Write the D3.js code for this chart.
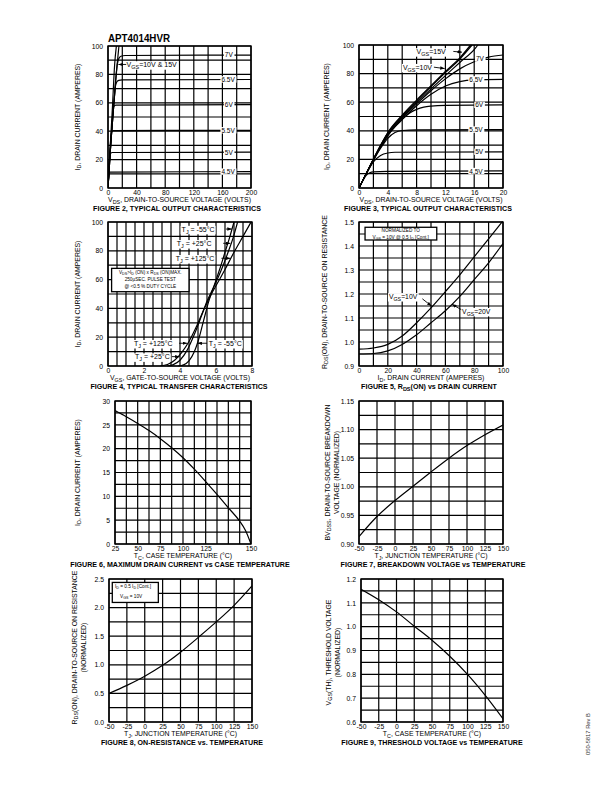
<!DOCTYPE html>
<html>
<head>
<meta charset="utf-8">
<script src="https://cdn.jsdelivr.net/npm/d3@7"></script>
<style>
body { margin: 0; background: #fff; }
svg { display: block; font-family: "Liberation Sans", Arial, sans-serif; }
</style>
</head>
<body>
<script>
// values

// fig 2 - output characteristics, 0..200 V
const fig2XTicks = [0, 40, 80, 120, 160, 200];
const fig2YTicks = [0, 20, 40, 60, 80, 100];
const fig2Vgs15 = [[0,0],[2,20],[4,37],[6,55],[9.3,87],[11.7,100]];
const fig2Vgs10 = [[0,0],[2,18],[4,32],[8,58],[12.6,86],[15.3,100]];
const fig2Vgs7 = [[0,0],[4,32],[8,58],[11,78],[13,87],[15,91],[18,92.8],[24,93.3],[200,93.6]];
const fig2Vgs65 = [[0,0],[4,32],[8,58],[10,70],[12,74.5],[15,75.8],[20,76.2],[200,76.4]];
const fig2Vgs6 = [[0,0],[4,32],[6,48],[7,54.5],[8,57.5],[11,58.4],[200,58.7]];
const fig2Vgs55 = [[0,0],[3,28],[4,35.5],[5,39.5],[7,40.4],[200,40.6]];
const fig2Vgs5 = [[0,0],[2,19],[3,23.5],[4,24.6],[6,25],[200,25.2]];
const fig2Vgs45 = [[0,0],[1,9],[1.8,10.8],[3,11.2],[200,11.5]];

// fig 3 - output characteristics, 0..20 V
const fig3XTicks = [0, 4, 8, 12, 16, 20];
const fig3YTicks = [0, 20, 40, 60, 80, 100];
const fig3Vgs15 = [[0,0],[1,10.2],[2,20.3],[3,30],[4,38.8],[6,51],[8,61.5],[10,71.5],[12,81.5],[14,91],[15.5,100]];
const fig3Vgs10 = [[0,0],[1,10.1],[2,20.1],[3,29.7],[4,38.4],[6,50.4],[8,60.8],[10,70.8],[12,80.7],[14,90.2],[15.7,100]];
const fig3Vgs8 = [[0,0],[1,10],[2,20],[3,29.4],[4,38],[6,49.7],[8,59.8],[10,69.3],[12,78.6],[14,87.8],[16.2,98],[16.5,100]];
const fig3Vgs7 = [[0,0],[1,10],[2,19.8],[3,29],[4,37.5],[6,49],[8,58.8],[10,68],[12,76.3],[14,83.3],[16,88.3],[18,91.5],[20,93]];
const fig3Vgs65 = [[0,0],[1,10],[2,19.7],[3,28.8],[4,37],[6,47.8],[8,57.5],[10,65.5],[12,71.3],[14,74.4],[16,75.6],[20,76]];
const fig3Vgs6 = [[0,0],[1,10],[2,19.5],[3,28.5],[4,36.5],[5,43],[6,48.2],[7,52.3],[8,55],[9,56.6],[10,57.3],[12,57.8],[20,58.1]];
const fig3Vgs55 = [[0,0],[1,10],[2,19.3],[3,27.8],[4,34.8],[5,38.8],[6,40.2],[8,40.6],[20,40.8]];
const fig3Vgs5 = [[0,0],[1,9.8],[2,18.3],[3,22.8],[4,24.5],[5,25],[20,25.3]];
const fig3Vgs45 = [[0,0],[1,8.8],[1.5,10.7],[2,11.3],[4,11.6],[20,12]];

// fig 4 - transfer characteristics
const fig4XTicks = [0, 2, 4, 6, 8];
const fig4YTicks = [0, 20, 40, 60, 80, 100];
const fig4TjM55 = [[3.9,0],[4.2,0.8],[4.5,3.5],[4.8,10],[5.0,17],[5.3,31],[5.6,45],[5.9,56],[6.2,67],[6.5,79],[6.75,89],[7.0,100]];
const fig4Tj25 = [[3.3,0],[3.6,0.8],[4.0,4],[4.4,11],[4.8,22],[5.2,35],[5.5,45],[5.8,53],[6.1,61],[6.4,70],[6.7,80],[6.95,89],[7.2,100]];
const fig4Tj125 = [[2.9,0],[3.3,1],[3.7,4],[4.1,9.5],[4.5,17],[4.9,27],[5.3,38.5],[5.7,49],[6.1,58],[6.5,67],[7.0,79],[7.5,90],[7.95,100]];

// fig 5 - Rds(on) vs drain current
const fig5XTicks = [0, 20, 40, 60, 80, 100];
const fig5YTicks = [0.9, 1.0, 1.1, 1.2, 1.3, 1.4, 1.5];
const fig5Vgs10 = [[0,0.97],[10,0.975],[20,0.99],[30,1.025],[40,1.08],[50,1.142],[60,1.21],[70,1.28],[80,1.355],[90,1.43],[100,1.505]];
const fig5Vgs20 = [[0,0.95],[10,0.952],[20,0.963],[30,0.99],[40,1.03],[50,1.08],[60,1.13],[70,1.19],[80,1.26],[90,1.33],[100,1.41]];

// fig 6 - max drain current vs case temperature (grid is 12 cells, labels at cells 0,2,4,6,8,12)
const fig6XTicks = [25, 50, 75, 100, 125, 150];
const fig6YTicks = [0, 5, 10, 15, 20, 25, 30];
const fig6Id = [[25,28],[37.5,26.7],[50,25.3],[62.5,23.8],[75,22.1],[87.5,20.2],[100,18.1],[112.5,15.7],[125,13.1],[131.25,10.4],[137.5,7.6],[143.75,4.8],[146.9,2.9],[150,0]];

// fig 7 - breakdown voltage vs temperature
const tempTicks = [-50, -25, 0, 25, 50, 75, 100, 125, 150];
const fig7YTicks = [0.90, 0.95, 1.00, 1.05, 1.10, 1.15];
const fig7Bv = [[-50,0.913],[-25,0.948],[0,0.976],[25,1.001],[50,1.026],[75,1.05],[100,1.072],[125,1.091],[150,1.108]];

// fig 8 - on-resistance vs temperature
const fig8YTicks = [0.0, 0.5, 1.0, 1.5, 2.0, 2.5];
const fig8Rds = [[-50,0.5],[-25,0.64],[0,0.8],[25,0.99],[50,1.22],[75,1.48],[100,1.75],[125,2.04],[150,2.38]];

// fig 9 - threshold voltage vs temperature
const fig9YTicks = [0.6, 0.7, 0.8, 0.9, 1.0, 1.1, 1.2];
const fig9Vth = [[-50,1.157],[-25,1.113],[0,1.062],[25,1.002],[50,0.943],[75,0.876],[100,0.8],[125,0.712],[150,0.614]];

const svg = d3.select("body").append("svg").attr("width", 612).attr("height", 792);

svg.append("defs").append("marker")
  .attr("id", "ah").attr("viewBox", "0 0 8 6").attr("refX", 8).attr("refY", 3)
  .attr("markerWidth", 4.5).attr("markerHeight", 3.4).attr("markerUnits", "userSpaceOnUse")
  .attr("orient", "auto")
  .append("path").attr("d", "M0,0L8,3L0,6Z").attr("fill", "#000");

// text with _{sub} parts
function rich(g, str, fs) {
  const t = g.append("text").attr("font-size", fs).attr("fill", "#000");
  let down = false;
  str.split(/(_\{[^}]*\})/).filter(s => s.length).forEach(p => {
    if (p.startsWith("_{")) {
      t.append("tspan").attr("font-size", fs * 0.78).attr("dy", fs * 0.3).text(p.slice(2, -1));
      down = true;
    } else {
      const s = t.append("tspan").text(p);
      if (down) { s.attr("dy", -fs * 0.3); down = false; }
    }
  });
  return t;
}

function label(g, str, fs, px, py, anchor, bg) {
  const t = rich(g, str, fs).attr("x", px).attr("y", py + fs * 0.35).attr("text-anchor", anchor || "middle");
  if (bg) {
    const b = t.node().getBBox();
    g.insert("rect", () => t.node())
      .attr("x", b.x - 1).attr("y", b.y + 0.3).attr("width", b.width + 2).attr("height", b.height - 0.6)
      .attr("fill", "#fff");
  }
  return t;
}

function drawChart(c) {
  const [l, r, t, b] = c.frame;
  const x = d3.scaleLinear().domain(c.xDom).range(c.xRange ? c.xRange.map(f => l + f * (r - l)) : [l, r]);
  const y = d3.scaleLinear().domain(c.yDom).range([b, t]);
  const g = svg.append("g");

  g.selectAll(null).data(c.gridX).join("line")
    .attr("x1", d => x(d)).attr("x2", d => x(d)).attr("y1", t).attr("y2", b)
    .attr("stroke", "#000").attr("stroke-width", 1.2);
  g.selectAll(null).data(c.gridY).join("line")
    .attr("x1", l).attr("x2", r).attr("y1", d => y(d)).attr("y2", d => y(d))
    .attr("stroke", "#000").attr("stroke-width", 1.2);
  g.append("rect").attr("x", l).attr("y", t).attr("width", r - l).attr("height", b - t)
    .attr("fill", "none").attr("stroke", "#000").attr("stroke-width", 1.4);

  const ax = g.append("g").attr("transform", `translate(0,${b})`)
    .call(d3.axisBottom(x).tickValues(c.xTicks).tickFormat(c.xFmt).tickSize(0).tickPadding(1.8));
  const ay = g.append("g").attr("transform", `translate(${l},0)`)
    .call(d3.axisLeft(y).tickValues(c.yTicks).tickFormat(c.yFmt).tickSize(0).tickPadding(5));
  [ax, ay].forEach(a => {
    a.select(".domain").remove();
    a.attr("font-family", null).attr("font-size", null);
    a.selectAll("text").attr("font-size", 6.8).attr("fill", "#000");
  });

  const clip = "clip" + c.id;
  g.append("clipPath").attr("id", clip).append("rect")
    .attr("x", l).attr("y", t - 0.5).attr("width", r - l).attr("height", b - t + 1);
  const line = d3.line().x(d => x(d[0])).y(d => y(d[1])).curve(d3.curveMonotoneX);
  g.append("g").attr("clip-path", `url(#${clip})`)
    .selectAll("path").data(c.series).join("path")
    .attr("d", line).attr("fill", "none").attr("stroke", "#000").attr("stroke-width", 1.2);

  (c.boxes || []).forEach(bx => {
    g.append("rect").attr("x", x(bx.x1)).attr("y", y(bx.y1))
      .attr("width", x(bx.x2) - x(bx.x1)).attr("height", y(bx.y2) - y(bx.y1))
      .attr("fill", "#fff").attr("stroke", "#000").attr("stroke-width", 1.3);
    bx.lines.forEach(ln => label(g, ln.t, 4.7, x(ln.x), y(ln.y), ln.anchor || "middle", false));
  });
  (c.labels || []).forEach(lb => label(g, lb.t, lb.fs || 6.5, x(lb.x), y(lb.y), lb.anchor, true));
  (c.arrows || []).forEach(a => {
    g.append("line").attr("x1", x(a[0])).attr("y1", y(a[1])).attr("x2", x(a[2])).attr("y2", y(a[3]))
      .attr("stroke", "#000").attr("stroke-width", 0.9).attr("marker-end", "url(#ah)");
  });

  const mid = (l + r) / 2;
  rich(g, c.xTitle, 6.9).attr("x", mid).attr("y", b + 13.8).attr("text-anchor", "middle");
  rich(g, c.caption, 7.1).attr("x", c.capX).attr("y", b + 22.6).attr("text-anchor", "middle")
    .attr("font-weight", "bold");
  c.yTitles.forEach(([px, str]) => {
    rich(g, str, 6.9).attr("text-anchor", "middle").attr("dominant-baseline", "central")
      .attr("transform", `translate(${px},${(t + b) / 2 + (c.yShift || 0)}) rotate(-90)`);
  });
}

const fmt0 = d => String(d), fmt1 = d3.format(".1f"), fmt2 = d3.format(".2f");
const tempGrid = d3.range(-50, 151, 25);

const charts = [
  { id: 2, frame: [108, 251, 46, 188], xDom: [0, 200], yDom: [0, 100],
    gridX: d3.range(0, 201, 20), gridY: d3.range(0, 101, 10),
    xTicks: fig2XTicks, yTicks: fig2YTicks, xFmt: fmt0, yFmt: fmt0,
    xTitle: "V_{DS}, DRAIN-TO-SOURCE VOLTAGE (VOLTS)", yTitles: [[77, "I_{D}, DRAIN CURRENT (AMPERES)"]],
    caption: "FIGURE 2, TYPICAL OUTPUT CHARACTERISTICS", capX: 177,
    series: [fig2Vgs15, fig2Vgs10, fig2Vgs7, fig2Vgs65, fig2Vgs6, fig2Vgs55, fig2Vgs5, fig2Vgs45],
    labels: [
      { t: "7V", x: 169, y: 94.2 }, { t: "6.5V", x: 168, y: 76.3 }, { t: "6V", x: 169, y: 58.6 },
      { t: "5.5V", x: 168, y: 40.5 }, { t: "5V", x: 169, y: 25.1 }, { t: "4.5V", x: 168, y: 11.4 },
      { t: "V_{GS}=10V & 15V", x: 26, y: 87, anchor: "start", fs: 7 }
    ],
    arrows: [[25.5, 87, 14.5, 87]] },
  { id: 3, frame: [359, 503, 45, 188], xDom: [0, 20], yDom: [0, 100],
    gridX: d3.range(0, 21, 2), gridY: d3.range(0, 101, 10),
    xTicks: fig3XTicks, yTicks: fig3YTicks, xFmt: fmt0, yFmt: fmt0,
    xTitle: "V_{DS}, DRAIN-TO-SOURCE VOLTAGE (VOLTS)", yTitles: [[326, "I_{D}, DRAIN CURRENT (AMPERES)"]],
    caption: "FIGURE 3, TYPICAL OUTPUT CHARACTERISTICS", capX: 428,
    series: [fig3Vgs15, fig3Vgs10, fig3Vgs8, fig3Vgs7, fig3Vgs65, fig3Vgs6, fig3Vgs55, fig3Vgs5, fig3Vgs45],
    labels: [
      { t: "7V", x: 16.8, y: 90.4 }, { t: "6.5V", x: 16.25, y: 75.8 }, { t: "6V", x: 16.7, y: 58 },
      { t: "5.5V", x: 16.25, y: 40.7 }, { t: "5V", x: 16.7, y: 25.2 }, { t: "4.5V", x: 16.25, y: 11.7 },
      { t: "V_{GS}=15V", x: 8.0, y: 95.5, anchor: "start", fs: 7 },
      { t: "V_{GS}=10V", x: 6.1, y: 84.5, anchor: "start", fs: 7 }
    ],
    arrows: [[13.1, 95.5, 14.3, 95.0], [10.4, 84.5, 11.9, 83.5]] },
  { id: 4, frame: [108, 252, 222, 366], xDom: [0, 8], yDom: [0, 100],
    gridX: d3.range(0, 8.01, 0.5), gridY: d3.range(0, 101, 10),
    xTicks: fig4XTicks, yTicks: fig4YTicks, xFmt: fmt0, yFmt: fmt0,
    xTitle: "V_{GS}, GATE-TO-SOURCE VOLTAGE (VOLTS)", yTitles: [[77, "I_{D}, DRAIN CURRENT (AMPERES)"]],
    caption: "FIGURE 4, TYPICAL TRANSFER CHARACTERISTICS", capX: 179,
    series: [fig4TjM55, fig4Tj25, fig4Tj125],
    boxes: [{ x1: 0.2, y1: 67.8, x2: 4.5, y2: 51.6, lines: [
      { t: "V_{DS}>I_{D} (ON) x R_{DS} (ON)MAX.", x: 2.35, y: 65.1 },
      { t: "250\u00b5SEC.  PULSE TEST", x: 2.35, y: 60.2 },
      { t: "@ <0.5 % DUTY CYCLE", x: 2.35, y: 55.6 }] }],
    labels: [
      { t: "T_{J} = -55\u00b0C", x: 4.09, y: 95.1, anchor: "start", fs: 7 },
      { t: "T_{J} = +25\u00b0C", x: 3.82, y: 85.2, anchor: "start", fs: 7 },
      { t: "T_{J} = +125\u00b0C", x: 3.76, y: 74.8, anchor: "start", fs: 7 },
      { t: "T_{J} = +125\u00b0C", x: 1.44, y: 15.8, anchor: "start", fs: 7 },
      { t: "T_{J} = -55\u00b0C", x: 5.6, y: 15.8, anchor: "start", fs: 7 },
      { t: "T_{J} = +25\u00b0C", x: 1.5, y: 6.5, anchor: "start", fs: 7 }
    ],
    arrows: [[6.55, 95.1, 6.88, 95.1], [6.4, 85.2, 6.8, 85.2], [6.3, 74.8, 6.8, 74.8],
             [3.95, 15.8, 4.4, 15.8], [5.5, 15.8, 4.97, 15.8], [3.55, 6.5, 3.98, 6.5]] },
  { id: 5, frame: [359, 503, 222, 366], xDom: [0, 100], yDom: [0.9, 1.5],
    gridX: d3.range(0, 101, 10), gridY: d3.range(0.9, 1.501, 0.05),
    xTicks: fig5XTicks, yTicks: fig5YTicks, xFmt: fmt0, yFmt: fmt1,
    xTitle: "I_{D}, DRAIN CURRENT (AMPERES)", yTitles: [[324, "R_{DS}(ON), DRAIN-TO-SOURCE ON RESISTANCE"]],
    yShift: -2,
    caption: "FIGURE 5, R_{DS}(ON) vs DRAIN CURRENT", capX: 429,
    series: [fig5Vgs10, fig5Vgs20],
    boxes: [{ x1: 4.2, y1: 1.478, x2: 54, y2: 1.425, lines: [
      { t: "NORMALIZED TO", x: 29, y: 1.467 },
      { t: "V_{GS} = 10V  @  0.5  I_{D} [Cont.]", x: 29, y: 1.438 }] }],
    labels: [
      { t: "V_{GS}=10V", x: 20.8, y: 1.19, anchor: "start", fs: 6.8 },
      { t: "V_{GS}=20V", x: 71.6, y: 1.128, anchor: "start", fs: 6.8 }
    ],
    arrows: [[44, 1.18, 50.3, 1.15], [71, 1.135, 64.6, 1.157]] },
  { id: 6, frame: [115, 251, 401, 544], xDom: [25, 125, 150], xRange: [0, 8 / 12, 1], yDom: [0, 30],
    gridX: d3.range(25, 125, 12.5).concat(d3.range(125, 150.01, 6.25)), gridY: d3.range(0, 30.01, 2.5),
    xTicks: fig6XTicks, yTicks: fig6YTicks, xFmt: fmt0, yFmt: fmt0,
    xTitle: "T_{C}, CASE TEMPERATURE (\u00b0C)", yTitles: [[77, "I_{D}, DRAIN CURRENT (AMPERES)"]],
    caption: "FIGURE 6, MAXIMUM DRAIN CURRENT vs CASE TEMPERATURE", capX: 180,
    series: [fig6Id] },
  { id: 7, frame: [359, 503, 401, 544], xDom: [-50, 150], yDom: [0.9, 1.15],
    gridX: tempGrid, gridY: d3.range(0.9, 1.1501, 0.025),
    xTicks: tempTicks, yTicks: fig7YTicks, xFmt: fmt0, yFmt: fmt2,
    xTitle: "T_{J}, JUNCTION TEMPERATURE (\u00b0C)",
    yTitles: [[327, "BV_{DSS}, DRAIN-TO-SOURCE BREAKDOWN"], [336, "VOLTAGE (NORMALIZED)"]],
    caption: "FIGURE 7, BREAKDOWN VOLTAGE vs TEMPERATURE", capX: 433,
    series: [fig7Bv] },
  { id: 8, frame: [109, 252, 579, 722], xDom: [-50, 150], yDom: [0, 2.5],
    gridX: tempGrid, gridY: d3.range(0, 2.501, 0.25),
    xTicks: tempTicks, yTicks: fig8YTicks, xFmt: fmt0, yFmt: fmt1,
    xTitle: "T_{J}, JUNCTION TEMPERATURE (\u00b0C)",
    yTitles: [[74, "R_{DS}(ON), DRAIN-TO-SOURCE ON RESISTANCE"], [83, "(NORMALIZED)"]],
    yShift: -3,
    caption: "FIGURE 8, ON-RESISTANCE vs. TEMPERATURE", capX: 182,
    series: [fig8Rds],
    boxes: [{ x1: -45.4, y1: 2.44, x2: 19, y2: 2.09, lines: [
      { t: "I_{D} = 0.5  I_{D} [Cont.]", x: -41.6, y: 2.38, anchor: "start" },
      { t: "V_{GS} = 10V", x: -34.6, y: 2.2, anchor: "start" }] }] },
  { id: 9, frame: [361, 503, 579, 722], xDom: [-50, 150], yDom: [0.6, 1.2],
    gridX: tempGrid, gridY: d3.range(0.6, 1.2001, 0.05),
    xTicks: tempTicks, yTicks: fig9YTicks, xFmt: fmt0, yFmt: fmt1,
    xTitle: "T_{C}, CASE TEMPERATURE (\u00b0C)",
    yTitles: [[328, "V_{GS}(TH), THRESHOLD VOLTAGE"], [337, "(NORMALIZED)"]],
    yShift: 2,
    caption: "FIGURE 9, THRESHOLD VOLTAGE vs TEMPERATURE", capX: 432,
    series: [fig9Vth] }
];

charts.forEach(drawChart);

svg.append("text").attr("x", 108).attr("y", 41.5).attr("font-size", 11.5).attr("font-weight", "bold")
  .attr("textLength", 62).attr("lengthAdjust", "spacingAndGlyphs").text("APT4014HVR");

svg.append("text").attr("transform", "translate(590,734) rotate(-90)").attr("text-anchor", "middle")
  .attr("font-size", 5.8).attr("fill", "#333").text("050-5817  Rev B");
</script>
</body>
</html>
